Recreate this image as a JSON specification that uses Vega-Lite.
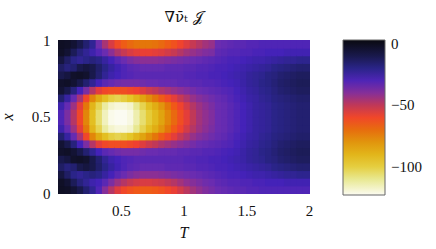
{
"$schema": "https://vega.github.io/schema/vega-lite/v6.json",
"width": 251, "height": 153,
"autosize": "none",
"padding": {"left": 58, "top": 40, "right": 127, "bottom": 56},
"background": "white",
"config": {"view": {"stroke": "#222", "strokeWidth": 1}, "font": "Liberation Serif, serif", "rect": {"binSpacing": -1},
  "axis": {"labelFont": "Liberation Serif, serif", "titleFont": "Liberation Serif, serif"},
  "legend": {"labelFont": "Liberation Serif, serif"}},
"title": {"text": "\u2207\u03bd\u0304\u209c \ud835\udca5", "fontSize": 15, "font": "DejaVu Serif, serif", "fontWeight": "normal", "offset": 8, "color": "#111"},
"data": {"values": [
{"t":0,"x":0,"v":-2},{"t":0,"x":0.05,"v":-3},{"t":0,"x":0.1,"v":-8},{"t":0,"x":0.15,"v":-14},{"t":0,"x":0.2,"v":-10},{"t":0,"x":0.25,"v":-4},{"t":0,"x":0.3,"v":-6},{"t":0,"x":0.35,"v":-16},{"t":0,"x":0.4,"v":-26},{"t":0,"x":0.45,"v":-30},{"t":0,"x":0.5,"v":-30},{"t":0,"x":0.55,"v":-26},{"t":0,"x":0.6,"v":-16},{"t":0,"x":0.65,"v":-6},{"t":0,"x":0.7,"v":-4},{"t":0,"x":0.75,"v":-10},{"t":0,"x":0.8,"v":-14},{"t":0,"x":0.85,"v":-8},{"t":0,"x":0.9,"v":-3},{"t":0,"x":0.95,"v":-2},
{"t":0.05,"x":0,"v":-3},{"t":0.05,"x":0.05,"v":-6},{"t":0.05,"x":0.1,"v":-14},{"t":0.05,"x":0.15,"v":-18},{"t":0.05,"x":0.2,"v":-8},{"t":0.05,"x":0.25,"v":-3},{"t":0.05,"x":0.3,"v":-10},{"t":0.05,"x":0.35,"v":-24},{"t":0.05,"x":0.4,"v":-34},{"t":0.05,"x":0.45,"v":-38},{"t":0.05,"x":0.5,"v":-38},{"t":0.05,"x":0.55,"v":-34},{"t":0.05,"x":0.6,"v":-24},{"t":0.05,"x":0.65,"v":-10},{"t":0.05,"x":0.7,"v":-3},{"t":0.05,"x":0.75,"v":-8},{"t":0.05,"x":0.8,"v":-18},{"t":0.05,"x":0.85,"v":-14},{"t":0.05,"x":0.9,"v":-6},{"t":0.05,"x":0.95,"v":-3},
{"t":0.1,"x":0,"v":-6},{"t":0.1,"x":0.05,"v":-12},{"t":0.1,"x":0.1,"v":-20},{"t":0.1,"x":0.15,"v":-16},{"t":0.1,"x":0.2,"v":-4},{"t":0.1,"x":0.25,"v":-6},{"t":0.1,"x":0.3,"v":-18},{"t":0.1,"x":0.35,"v":-34},{"t":0.1,"x":0.4,"v":-44},{"t":0.1,"x":0.45,"v":-48},{"t":0.1,"x":0.5,"v":-48},{"t":0.1,"x":0.55,"v":-44},{"t":0.1,"x":0.6,"v":-34},{"t":0.1,"x":0.65,"v":-18},{"t":0.1,"x":0.7,"v":-6},{"t":0.1,"x":0.75,"v":-4},{"t":0.1,"x":0.8,"v":-16},{"t":0.1,"x":0.85,"v":-20},{"t":0.1,"x":0.9,"v":-12},{"t":0.1,"x":0.95,"v":-6},
{"t":0.15,"x":0,"v":-10},{"t":0.15,"x":0.05,"v":-18},{"t":0.15,"x":0.1,"v":-22},{"t":0.15,"x":0.15,"v":-10},{"t":0.15,"x":0.2,"v":-3},{"t":0.15,"x":0.25,"v":-10},{"t":0.15,"x":0.3,"v":-28},{"t":0.15,"x":0.35,"v":-46},{"t":0.15,"x":0.4,"v":-56},{"t":0.15,"x":0.45,"v":-60},{"t":0.15,"x":0.5,"v":-60},{"t":0.15,"x":0.55,"v":-56},{"t":0.15,"x":0.6,"v":-46},{"t":0.15,"x":0.65,"v":-28},{"t":0.15,"x":0.7,"v":-10},{"t":0.15,"x":0.75,"v":-3},{"t":0.15,"x":0.8,"v":-10},{"t":0.15,"x":0.85,"v":-22},{"t":0.15,"x":0.9,"v":-18},{"t":0.15,"x":0.95,"v":-10},
{"t":0.2,"x":0,"v":-16},{"t":0.2,"x":0.05,"v":-22},{"t":0.2,"x":0.1,"v":-20},{"t":0.2,"x":0.15,"v":-8},{"t":0.2,"x":0.2,"v":-5},{"t":0.2,"x":0.25,"v":-16},{"t":0.2,"x":0.3,"v":-38},{"t":0.2,"x":0.35,"v":-60},{"t":0.2,"x":0.4,"v":-72},{"t":0.2,"x":0.45,"v":-76},{"t":0.2,"x":0.5,"v":-76},{"t":0.2,"x":0.55,"v":-72},{"t":0.2,"x":0.6,"v":-60},{"t":0.2,"x":0.65,"v":-38},{"t":0.2,"x":0.7,"v":-16},{"t":0.2,"x":0.75,"v":-5},{"t":0.2,"x":0.8,"v":-8},{"t":0.2,"x":0.85,"v":-20},{"t":0.2,"x":0.9,"v":-22},{"t":0.2,"x":0.95,"v":-16},
{"t":0.25,"x":0,"v":-22},{"t":0.25,"x":0.05,"v":-26},{"t":0.25,"x":0.1,"v":-18},{"t":0.25,"x":0.15,"v":-10},{"t":0.25,"x":0.2,"v":-10},{"t":0.25,"x":0.25,"v":-22},{"t":0.25,"x":0.3,"v":-48},{"t":0.25,"x":0.35,"v":-76},{"t":0.25,"x":0.4,"v":-90},{"t":0.25,"x":0.45,"v":-94},{"t":0.25,"x":0.5,"v":-94},{"t":0.25,"x":0.55,"v":-90},{"t":0.25,"x":0.6,"v":-76},{"t":0.25,"x":0.65,"v":-48},{"t":0.25,"x":0.7,"v":-22},{"t":0.25,"x":0.75,"v":-10},{"t":0.25,"x":0.8,"v":-10},{"t":0.25,"x":0.85,"v":-18},{"t":0.25,"x":0.9,"v":-26},{"t":0.25,"x":0.95,"v":-22},
{"t":0.3,"x":0,"v":-30},{"t":0.3,"x":0.05,"v":-28},{"t":0.3,"x":0.1,"v":-20},{"t":0.3,"x":0.15,"v":-15},{"t":0.3,"x":0.2,"v":-16},{"t":0.3,"x":0.25,"v":-28},{"t":0.3,"x":0.3,"v":-56},{"t":0.3,"x":0.35,"v":-86},{"t":0.3,"x":0.4,"v":-102},{"t":0.3,"x":0.45,"v":-106},{"t":0.3,"x":0.5,"v":-106},{"t":0.3,"x":0.55,"v":-102},{"t":0.3,"x":0.6,"v":-86},{"t":0.3,"x":0.65,"v":-56},{"t":0.3,"x":0.7,"v":-28},{"t":0.3,"x":0.75,"v":-16},{"t":0.3,"x":0.8,"v":-15},{"t":0.3,"x":0.85,"v":-20},{"t":0.3,"x":0.9,"v":-31},{"t":0.3,"x":0.95,"v":-36},
{"t":0.35,"x":0,"v":-40},{"t":0.35,"x":0.05,"v":-32},{"t":0.35,"x":0.1,"v":-24},{"t":0.35,"x":0.15,"v":-20},{"t":0.35,"x":0.2,"v":-22},{"t":0.35,"x":0.25,"v":-32},{"t":0.35,"x":0.3,"v":-60},{"t":0.35,"x":0.35,"v":-94},{"t":0.35,"x":0.4,"v":-112},{"t":0.35,"x":0.45,"v":-116},{"t":0.35,"x":0.5,"v":-116},{"t":0.35,"x":0.55,"v":-112},{"t":0.35,"x":0.6,"v":-94},{"t":0.35,"x":0.65,"v":-60},{"t":0.35,"x":0.7,"v":-32},{"t":0.35,"x":0.75,"v":-22},{"t":0.35,"x":0.8,"v":-20},{"t":0.35,"x":0.85,"v":-24},{"t":0.35,"x":0.9,"v":-35},{"t":0.35,"x":0.95,"v":-46},
{"t":0.4,"x":0,"v":-48},{"t":0.4,"x":0.05,"v":-38},{"t":0.4,"x":0.1,"v":-28},{"t":0.4,"x":0.15,"v":-24},{"t":0.4,"x":0.2,"v":-26},{"t":0.4,"x":0.25,"v":-34},{"t":0.4,"x":0.3,"v":-62},{"t":0.4,"x":0.35,"v":-100},{"t":0.4,"x":0.4,"v":-118},{"t":0.4,"x":0.45,"v":-122},{"t":0.4,"x":0.5,"v":-122},{"t":0.4,"x":0.55,"v":-118},{"t":0.4,"x":0.6,"v":-100},{"t":0.4,"x":0.65,"v":-62},{"t":0.4,"x":0.7,"v":-34},{"t":0.4,"x":0.75,"v":-26},{"t":0.4,"x":0.8,"v":-24},{"t":0.4,"x":0.85,"v":-28},{"t":0.4,"x":0.9,"v":-41},{"t":0.4,"x":0.95,"v":-54},
{"t":0.45,"x":0,"v":-55},{"t":0.45,"x":0.05,"v":-44},{"t":0.45,"x":0.1,"v":-32},{"t":0.45,"x":0.15,"v":-27},{"t":0.45,"x":0.2,"v":-28},{"t":0.45,"x":0.25,"v":-36},{"t":0.45,"x":0.3,"v":-62},{"t":0.45,"x":0.35,"v":-102},{"t":0.45,"x":0.4,"v":-120},{"t":0.45,"x":0.45,"v":-123},{"t":0.45,"x":0.5,"v":-123},{"t":0.45,"x":0.55,"v":-120},{"t":0.45,"x":0.6,"v":-102},{"t":0.45,"x":0.65,"v":-62},{"t":0.45,"x":0.7,"v":-36},{"t":0.45,"x":0.75,"v":-28},{"t":0.45,"x":0.8,"v":-27},{"t":0.45,"x":0.85,"v":-32},{"t":0.45,"x":0.9,"v":-47},{"t":0.45,"x":0.95,"v":-61},
{"t":0.5,"x":0,"v":-60},{"t":0.5,"x":0.05,"v":-48},{"t":0.5,"x":0.1,"v":-35},{"t":0.5,"x":0.15,"v":-30},{"t":0.5,"x":0.2,"v":-30},{"t":0.5,"x":0.25,"v":-37},{"t":0.5,"x":0.3,"v":-62},{"t":0.5,"x":0.35,"v":-100},{"t":0.5,"x":0.4,"v":-120},{"t":0.5,"x":0.45,"v":-123},{"t":0.5,"x":0.5,"v":-123},{"t":0.5,"x":0.55,"v":-120},{"t":0.5,"x":0.6,"v":-100},{"t":0.5,"x":0.65,"v":-62},{"t":0.5,"x":0.7,"v":-37},{"t":0.5,"x":0.75,"v":-30},{"t":0.5,"x":0.8,"v":-30},{"t":0.5,"x":0.85,"v":-35},{"t":0.5,"x":0.9,"v":-51},{"t":0.5,"x":0.95,"v":-66},
{"t":0.55,"x":0,"v":-63},{"t":0.55,"x":0.05,"v":-51},{"t":0.55,"x":0.1,"v":-38},{"t":0.55,"x":0.15,"v":-32},{"t":0.55,"x":0.2,"v":-31},{"t":0.55,"x":0.25,"v":-37},{"t":0.55,"x":0.3,"v":-60},{"t":0.55,"x":0.35,"v":-97},{"t":0.55,"x":0.4,"v":-118},{"t":0.55,"x":0.45,"v":-121},{"t":0.55,"x":0.5,"v":-121},{"t":0.55,"x":0.55,"v":-118},{"t":0.55,"x":0.6,"v":-97},{"t":0.55,"x":0.65,"v":-60},{"t":0.55,"x":0.7,"v":-37},{"t":0.55,"x":0.75,"v":-31},{"t":0.55,"x":0.8,"v":-32},{"t":0.55,"x":0.85,"v":-38},{"t":0.55,"x":0.9,"v":-54},{"t":0.55,"x":0.95,"v":-69},
{"t":0.6,"x":0,"v":-65},{"t":0.6,"x":0.05,"v":-53},{"t":0.6,"x":0.1,"v":-40},{"t":0.6,"x":0.15,"v":-33},{"t":0.6,"x":0.2,"v":-32},{"t":0.6,"x":0.25,"v":-37},{"t":0.6,"x":0.3,"v":-58},{"t":0.6,"x":0.35,"v":-90},{"t":0.6,"x":0.4,"v":-110},{"t":0.6,"x":0.45,"v":-114},{"t":0.6,"x":0.5,"v":-114},{"t":0.6,"x":0.55,"v":-110},{"t":0.6,"x":0.6,"v":-90},{"t":0.6,"x":0.65,"v":-58},{"t":0.6,"x":0.7,"v":-37},{"t":0.6,"x":0.75,"v":-32},{"t":0.6,"x":0.8,"v":-33},{"t":0.6,"x":0.85,"v":-40},{"t":0.6,"x":0.9,"v":-56},{"t":0.6,"x":0.95,"v":-71},
{"t":0.65,"x":0,"v":-66},{"t":0.65,"x":0.05,"v":-54},{"t":0.65,"x":0.1,"v":-41},{"t":0.65,"x":0.15,"v":-34},{"t":0.65,"x":0.2,"v":-32},{"t":0.65,"x":0.25,"v":-36},{"t":0.65,"x":0.3,"v":-55},{"t":0.65,"x":0.35,"v":-84},{"t":0.65,"x":0.4,"v":-102},{"t":0.65,"x":0.45,"v":-106},{"t":0.65,"x":0.5,"v":-106},{"t":0.65,"x":0.55,"v":-102},{"t":0.65,"x":0.6,"v":-84},{"t":0.65,"x":0.65,"v":-55},{"t":0.65,"x":0.7,"v":-36},{"t":0.65,"x":0.75,"v":-32},{"t":0.65,"x":0.8,"v":-34},{"t":0.65,"x":0.85,"v":-41},{"t":0.65,"x":0.9,"v":-57},{"t":0.65,"x":0.95,"v":-72},
{"t":0.7,"x":0,"v":-66},{"t":0.7,"x":0.05,"v":-54},{"t":0.7,"x":0.1,"v":-41},{"t":0.7,"x":0.15,"v":-34},{"t":0.7,"x":0.2,"v":-32},{"t":0.7,"x":0.25,"v":-35},{"t":0.7,"x":0.3,"v":-52},{"t":0.7,"x":0.35,"v":-78},{"t":0.7,"x":0.4,"v":-94},{"t":0.7,"x":0.45,"v":-99},{"t":0.7,"x":0.5,"v":-99},{"t":0.7,"x":0.55,"v":-94},{"t":0.7,"x":0.6,"v":-78},{"t":0.7,"x":0.65,"v":-52},{"t":0.7,"x":0.7,"v":-35},{"t":0.7,"x":0.75,"v":-32},{"t":0.7,"x":0.8,"v":-34},{"t":0.7,"x":0.85,"v":-41},{"t":0.7,"x":0.9,"v":-57},{"t":0.7,"x":0.95,"v":-72},
{"t":0.75,"x":0,"v":-65},{"t":0.75,"x":0.05,"v":-53},{"t":0.75,"x":0.1,"v":-41},{"t":0.75,"x":0.15,"v":-34},{"t":0.75,"x":0.2,"v":-32},{"t":0.75,"x":0.25,"v":-35},{"t":0.75,"x":0.3,"v":-50},{"t":0.75,"x":0.35,"v":-72},{"t":0.75,"x":0.4,"v":-87},{"t":0.75,"x":0.45,"v":-92},{"t":0.75,"x":0.5,"v":-92},{"t":0.75,"x":0.55,"v":-87},{"t":0.75,"x":0.6,"v":-72},{"t":0.75,"x":0.65,"v":-50},{"t":0.75,"x":0.7,"v":-35},{"t":0.75,"x":0.75,"v":-32},{"t":0.75,"x":0.8,"v":-34},{"t":0.75,"x":0.85,"v":-41},{"t":0.75,"x":0.9,"v":-56},{"t":0.75,"x":0.95,"v":-71},
{"t":0.8,"x":0,"v":-63},{"t":0.8,"x":0.05,"v":-52},{"t":0.8,"x":0.1,"v":-40},{"t":0.8,"x":0.15,"v":-34},{"t":0.8,"x":0.2,"v":-32},{"t":0.8,"x":0.25,"v":-34},{"t":0.8,"x":0.3,"v":-47},{"t":0.8,"x":0.35,"v":-66},{"t":0.8,"x":0.4,"v":-80},{"t":0.8,"x":0.45,"v":-84},{"t":0.8,"x":0.5,"v":-84},{"t":0.8,"x":0.55,"v":-80},{"t":0.8,"x":0.6,"v":-66},{"t":0.8,"x":0.65,"v":-47},{"t":0.8,"x":0.7,"v":-34},{"t":0.8,"x":0.75,"v":-32},{"t":0.8,"x":0.8,"v":-34},{"t":0.8,"x":0.85,"v":-40},{"t":0.8,"x":0.9,"v":-55},{"t":0.8,"x":0.95,"v":-69},
{"t":0.85,"x":0,"v":-60},{"t":0.85,"x":0.05,"v":-50},{"t":0.85,"x":0.1,"v":-39},{"t":0.85,"x":0.15,"v":-33},{"t":0.85,"x":0.2,"v":-32},{"t":0.85,"x":0.25,"v":-34},{"t":0.85,"x":0.3,"v":-45},{"t":0.85,"x":0.35,"v":-61},{"t":0.85,"x":0.4,"v":-72},{"t":0.85,"x":0.45,"v":-76},{"t":0.85,"x":0.5,"v":-76},{"t":0.85,"x":0.55,"v":-72},{"t":0.85,"x":0.6,"v":-61},{"t":0.85,"x":0.65,"v":-45},{"t":0.85,"x":0.7,"v":-34},{"t":0.85,"x":0.75,"v":-32},{"t":0.85,"x":0.8,"v":-33},{"t":0.85,"x":0.85,"v":-39},{"t":0.85,"x":0.9,"v":-53},{"t":0.85,"x":0.95,"v":-66},
{"t":0.9,"x":0,"v":-57},{"t":0.9,"x":0.05,"v":-48},{"t":0.9,"x":0.1,"v":-38},{"t":0.9,"x":0.15,"v":-33},{"t":0.9,"x":0.2,"v":-32},{"t":0.9,"x":0.25,"v":-34},{"t":0.9,"x":0.3,"v":-43},{"t":0.9,"x":0.35,"v":-56},{"t":0.9,"x":0.4,"v":-65},{"t":0.9,"x":0.45,"v":-69},{"t":0.9,"x":0.5,"v":-69},{"t":0.9,"x":0.55,"v":-65},{"t":0.9,"x":0.6,"v":-56},{"t":0.9,"x":0.65,"v":-43},{"t":0.9,"x":0.7,"v":-34},{"t":0.9,"x":0.75,"v":-32},{"t":0.9,"x":0.8,"v":-33},{"t":0.9,"x":0.85,"v":-38},{"t":0.9,"x":0.9,"v":-51},{"t":0.9,"x":0.95,"v":-63},
{"t":0.95,"x":0,"v":-53},{"t":0.95,"x":0.05,"v":-45},{"t":0.95,"x":0.1,"v":-37},{"t":0.95,"x":0.15,"v":-33},{"t":0.95,"x":0.2,"v":-32},{"t":0.95,"x":0.25,"v":-33},{"t":0.95,"x":0.3,"v":-41},{"t":0.95,"x":0.35,"v":-51},{"t":0.95,"x":0.4,"v":-59},{"t":0.95,"x":0.45,"v":-62},{"t":0.95,"x":0.5,"v":-62},{"t":0.95,"x":0.55,"v":-59},{"t":0.95,"x":0.6,"v":-51},{"t":0.95,"x":0.65,"v":-41},{"t":0.95,"x":0.7,"v":-33},{"t":0.95,"x":0.75,"v":-32},{"t":0.95,"x":0.8,"v":-33},{"t":0.95,"x":0.85,"v":-37},{"t":0.95,"x":0.9,"v":-48},{"t":0.95,"x":0.95,"v":-59},
{"t":1,"x":0,"v":-49},{"t":1,"x":0.05,"v":-42},{"t":1,"x":0.1,"v":-36},{"t":1,"x":0.15,"v":-32},{"t":1,"x":0.2,"v":-31},{"t":1,"x":0.25,"v":-33},{"t":1,"x":0.3,"v":-39},{"t":1,"x":0.35,"v":-47},{"t":1,"x":0.4,"v":-53},{"t":1,"x":0.45,"v":-56},{"t":1,"x":0.5,"v":-56},{"t":1,"x":0.55,"v":-53},{"t":1,"x":0.6,"v":-47},{"t":1,"x":0.65,"v":-39},{"t":1,"x":0.7,"v":-33},{"t":1,"x":0.75,"v":-31},{"t":1,"x":0.8,"v":-32},{"t":1,"x":0.85,"v":-36},{"t":1,"x":0.9,"v":-45},{"t":1,"x":0.95,"v":-55},
{"t":1.05,"x":0,"v":-45},{"t":1.05,"x":0.05,"v":-40},{"t":1.05,"x":0.1,"v":-35},{"t":1.05,"x":0.15,"v":-32},{"t":1.05,"x":0.2,"v":-31},{"t":1.05,"x":0.25,"v":-32},{"t":1.05,"x":0.3,"v":-37},{"t":1.05,"x":0.35,"v":-43},{"t":1.05,"x":0.4,"v":-48},{"t":1.05,"x":0.45,"v":-50},{"t":1.05,"x":0.5,"v":-50},{"t":1.05,"x":0.55,"v":-48},{"t":1.05,"x":0.6,"v":-43},{"t":1.05,"x":0.65,"v":-37},{"t":1.05,"x":0.7,"v":-32},{"t":1.05,"x":0.75,"v":-31},{"t":1.05,"x":0.8,"v":-32},{"t":1.05,"x":0.85,"v":-35},{"t":1.05,"x":0.9,"v":-43},{"t":1.05,"x":0.95,"v":-51},
{"t":1.1,"x":0,"v":-42},{"t":1.1,"x":0.05,"v":-38},{"t":1.1,"x":0.1,"v":-34},{"t":1.1,"x":0.15,"v":-31},{"t":1.1,"x":0.2,"v":-30},{"t":1.1,"x":0.25,"v":-32},{"t":1.1,"x":0.3,"v":-35},{"t":1.1,"x":0.35,"v":-40},{"t":1.1,"x":0.4,"v":-44},{"t":1.1,"x":0.45,"v":-45},{"t":1.1,"x":0.5,"v":-45},{"t":1.1,"x":0.55,"v":-44},{"t":1.1,"x":0.6,"v":-40},{"t":1.1,"x":0.65,"v":-35},{"t":1.1,"x":0.7,"v":-32},{"t":1.1,"x":0.75,"v":-30},{"t":1.1,"x":0.8,"v":-31},{"t":1.1,"x":0.85,"v":-34},{"t":1.1,"x":0.9,"v":-41},{"t":1.1,"x":0.95,"v":-48},
{"t":1.15,"x":0,"v":-39},{"t":1.15,"x":0.05,"v":-36},{"t":1.15,"x":0.1,"v":-33},{"t":1.15,"x":0.15,"v":-31},{"t":1.15,"x":0.2,"v":-30},{"t":1.15,"x":0.25,"v":-31},{"t":1.15,"x":0.3,"v":-34},{"t":1.15,"x":0.35,"v":-38},{"t":1.15,"x":0.4,"v":-41},{"t":1.15,"x":0.45,"v":-42},{"t":1.15,"x":0.5,"v":-42},{"t":1.15,"x":0.55,"v":-41},{"t":1.15,"x":0.6,"v":-38},{"t":1.15,"x":0.65,"v":-34},{"t":1.15,"x":0.7,"v":-31},{"t":1.15,"x":0.75,"v":-30},{"t":1.15,"x":0.8,"v":-31},{"t":1.15,"x":0.85,"v":-33},{"t":1.15,"x":0.9,"v":-39},{"t":1.15,"x":0.95,"v":-45},
{"t":1.2,"x":0,"v":-37},{"t":1.2,"x":0.05,"v":-35},{"t":1.2,"x":0.1,"v":-32},{"t":1.2,"x":0.15,"v":-30},{"t":1.2,"x":0.2,"v":-29},{"t":1.2,"x":0.25,"v":-31},{"t":1.2,"x":0.3,"v":-33},{"t":1.2,"x":0.35,"v":-36},{"t":1.2,"x":0.4,"v":-38},{"t":1.2,"x":0.45,"v":-39},{"t":1.2,"x":0.5,"v":-39},{"t":1.2,"x":0.55,"v":-38},{"t":1.2,"x":0.6,"v":-36},{"t":1.2,"x":0.65,"v":-33},{"t":1.2,"x":0.7,"v":-31},{"t":1.2,"x":0.75,"v":-29},{"t":1.2,"x":0.8,"v":-30},{"t":1.2,"x":0.85,"v":-32},{"t":1.2,"x":0.9,"v":-38},{"t":1.2,"x":0.95,"v":-43},
{"t":1.25,"x":0,"v":-35},{"t":1.25,"x":0.05,"v":-33},{"t":1.25,"x":0.1,"v":-31},{"t":1.25,"x":0.15,"v":-29},{"t":1.25,"x":0.2,"v":-29},{"t":1.25,"x":0.25,"v":-30},{"t":1.25,"x":0.3,"v":-32},{"t":1.25,"x":0.35,"v":-34},{"t":1.25,"x":0.4,"v":-35},{"t":1.25,"x":0.45,"v":-35},{"t":1.25,"x":0.5,"v":-35},{"t":1.25,"x":0.55,"v":-35},{"t":1.25,"x":0.6,"v":-34},{"t":1.25,"x":0.65,"v":-32},{"t":1.25,"x":0.7,"v":-30},{"t":1.25,"x":0.75,"v":-29},{"t":1.25,"x":0.8,"v":-29},{"t":1.25,"x":0.85,"v":-31},{"t":1.25,"x":0.9,"v":-33},{"t":1.25,"x":0.95,"v":-35},
{"t":1.3,"x":0,"v":-34},{"t":1.3,"x":0.05,"v":-32},{"t":1.3,"x":0.1,"v":-30},{"t":1.3,"x":0.15,"v":-29},{"t":1.3,"x":0.2,"v":-28},{"t":1.3,"x":0.25,"v":-29},{"t":1.3,"x":0.3,"v":-31},{"t":1.3,"x":0.35,"v":-33},{"t":1.3,"x":0.4,"v":-34},{"t":1.3,"x":0.45,"v":-34},{"t":1.3,"x":0.5,"v":-34},{"t":1.3,"x":0.55,"v":-34},{"t":1.3,"x":0.6,"v":-33},{"t":1.3,"x":0.65,"v":-31},{"t":1.3,"x":0.7,"v":-29},{"t":1.3,"x":0.75,"v":-28},{"t":1.3,"x":0.8,"v":-29},{"t":1.3,"x":0.85,"v":-30},{"t":1.3,"x":0.9,"v":-32},{"t":1.3,"x":0.95,"v":-34},
{"t":1.35,"x":0,"v":-33},{"t":1.35,"x":0.05,"v":-31},{"t":1.35,"x":0.1,"v":-29},{"t":1.35,"x":0.15,"v":-28},{"t":1.35,"x":0.2,"v":-27},{"t":1.35,"x":0.25,"v":-28},{"t":1.35,"x":0.3,"v":-30},{"t":1.35,"x":0.35,"v":-31},{"t":1.35,"x":0.4,"v":-32},{"t":1.35,"x":0.45,"v":-32},{"t":1.35,"x":0.5,"v":-32},{"t":1.35,"x":0.55,"v":-32},{"t":1.35,"x":0.6,"v":-31},{"t":1.35,"x":0.65,"v":-30},{"t":1.35,"x":0.7,"v":-28},{"t":1.35,"x":0.75,"v":-27},{"t":1.35,"x":0.8,"v":-28},{"t":1.35,"x":0.85,"v":-29},{"t":1.35,"x":0.9,"v":-31},{"t":1.35,"x":0.95,"v":-33},
{"t":1.4,"x":0,"v":-32},{"t":1.4,"x":0.05,"v":-31},{"t":1.4,"x":0.1,"v":-29},{"t":1.4,"x":0.15,"v":-27},{"t":1.4,"x":0.2,"v":-26},{"t":1.4,"x":0.25,"v":-27},{"t":1.4,"x":0.3,"v":-28},{"t":1.4,"x":0.35,"v":-29},{"t":1.4,"x":0.4,"v":-30},{"t":1.4,"x":0.45,"v":-30},{"t":1.4,"x":0.5,"v":-30},{"t":1.4,"x":0.55,"v":-30},{"t":1.4,"x":0.6,"v":-29},{"t":1.4,"x":0.65,"v":-28},{"t":1.4,"x":0.7,"v":-27},{"t":1.4,"x":0.75,"v":-26},{"t":1.4,"x":0.8,"v":-27},{"t":1.4,"x":0.85,"v":-29},{"t":1.4,"x":0.9,"v":-31},{"t":1.4,"x":0.95,"v":-32},
{"t":1.45,"x":0,"v":-32},{"t":1.45,"x":0.05,"v":-30},{"t":1.45,"x":0.1,"v":-28},{"t":1.45,"x":0.15,"v":-26},{"t":1.45,"x":0.2,"v":-25},{"t":1.45,"x":0.25,"v":-25},{"t":1.45,"x":0.3,"v":-26},{"t":1.45,"x":0.35,"v":-27},{"t":1.45,"x":0.4,"v":-28},{"t":1.45,"x":0.45,"v":-28},{"t":1.45,"x":0.5,"v":-28},{"t":1.45,"x":0.55,"v":-28},{"t":1.45,"x":0.6,"v":-27},{"t":1.45,"x":0.65,"v":-26},{"t":1.45,"x":0.7,"v":-25},{"t":1.45,"x":0.75,"v":-25},{"t":1.45,"x":0.8,"v":-26},{"t":1.45,"x":0.85,"v":-28},{"t":1.45,"x":0.9,"v":-30},{"t":1.45,"x":0.95,"v":-32},
{"t":1.5,"x":0,"v":-31},{"t":1.5,"x":0.05,"v":-30},{"t":1.5,"x":0.1,"v":-27},{"t":1.5,"x":0.15,"v":-25},{"t":1.5,"x":0.2,"v":-23},{"t":1.5,"x":0.25,"v":-23},{"t":1.5,"x":0.3,"v":-24},{"t":1.5,"x":0.35,"v":-25},{"t":1.5,"x":0.4,"v":-26},{"t":1.5,"x":0.45,"v":-26},{"t":1.5,"x":0.5,"v":-26},{"t":1.5,"x":0.55,"v":-26},{"t":1.5,"x":0.6,"v":-25},{"t":1.5,"x":0.65,"v":-24},{"t":1.5,"x":0.7,"v":-23},{"t":1.5,"x":0.75,"v":-23},{"t":1.5,"x":0.8,"v":-25},{"t":1.5,"x":0.85,"v":-27},{"t":1.5,"x":0.9,"v":-30},{"t":1.5,"x":0.95,"v":-31},
{"t":1.55,"x":0,"v":-31},{"t":1.55,"x":0.05,"v":-29},{"t":1.55,"x":0.1,"v":-26},{"t":1.55,"x":0.15,"v":-24},{"t":1.55,"x":0.2,"v":-22},{"t":1.55,"x":0.25,"v":-22},{"t":1.55,"x":0.3,"v":-23},{"t":1.55,"x":0.35,"v":-24},{"t":1.55,"x":0.4,"v":-24},{"t":1.55,"x":0.45,"v":-24},{"t":1.55,"x":0.5,"v":-24},{"t":1.55,"x":0.55,"v":-24},{"t":1.55,"x":0.6,"v":-24},{"t":1.55,"x":0.65,"v":-23},{"t":1.55,"x":0.7,"v":-22},{"t":1.55,"x":0.75,"v":-22},{"t":1.55,"x":0.8,"v":-24},{"t":1.55,"x":0.85,"v":-26},{"t":1.55,"x":0.9,"v":-29},{"t":1.55,"x":0.95,"v":-31},
{"t":1.6,"x":0,"v":-30},{"t":1.6,"x":0.05,"v":-29},{"t":1.6,"x":0.1,"v":-26},{"t":1.6,"x":0.15,"v":-23},{"t":1.6,"x":0.2,"v":-21},{"t":1.6,"x":0.25,"v":-20},{"t":1.6,"x":0.3,"v":-21},{"t":1.6,"x":0.35,"v":-22},{"t":1.6,"x":0.4,"v":-23},{"t":1.6,"x":0.45,"v":-23},{"t":1.6,"x":0.5,"v":-23},{"t":1.6,"x":0.55,"v":-23},{"t":1.6,"x":0.6,"v":-22},{"t":1.6,"x":0.65,"v":-21},{"t":1.6,"x":0.7,"v":-20},{"t":1.6,"x":0.75,"v":-21},{"t":1.6,"x":0.8,"v":-23},{"t":1.6,"x":0.85,"v":-26},{"t":1.6,"x":0.9,"v":-29},{"t":1.6,"x":0.95,"v":-30},
{"t":1.65,"x":0,"v":-30},{"t":1.65,"x":0.05,"v":-28},{"t":1.65,"x":0.1,"v":-25},{"t":1.65,"x":0.15,"v":-22},{"t":1.65,"x":0.2,"v":-19},{"t":1.65,"x":0.25,"v":-19},{"t":1.65,"x":0.3,"v":-20},{"t":1.65,"x":0.35,"v":-21},{"t":1.65,"x":0.4,"v":-22},{"t":1.65,"x":0.45,"v":-22},{"t":1.65,"x":0.5,"v":-22},{"t":1.65,"x":0.55,"v":-22},{"t":1.65,"x":0.6,"v":-21},{"t":1.65,"x":0.65,"v":-20},{"t":1.65,"x":0.7,"v":-19},{"t":1.65,"x":0.75,"v":-19},{"t":1.65,"x":0.8,"v":-22},{"t":1.65,"x":0.85,"v":-25},{"t":1.65,"x":0.9,"v":-28},{"t":1.65,"x":0.95,"v":-30},
{"t":1.7,"x":0,"v":-30},{"t":1.7,"x":0.05,"v":-28},{"t":1.7,"x":0.1,"v":-24},{"t":1.7,"x":0.15,"v":-20},{"t":1.7,"x":0.2,"v":-18},{"t":1.7,"x":0.25,"v":-17},{"t":1.7,"x":0.3,"v":-18},{"t":1.7,"x":0.35,"v":-19},{"t":1.7,"x":0.4,"v":-20},{"t":1.7,"x":0.45,"v":-20},{"t":1.7,"x":0.5,"v":-20},{"t":1.7,"x":0.55,"v":-20},{"t":1.7,"x":0.6,"v":-19},{"t":1.7,"x":0.65,"v":-18},{"t":1.7,"x":0.7,"v":-17},{"t":1.7,"x":0.75,"v":-18},{"t":1.7,"x":0.8,"v":-20},{"t":1.7,"x":0.85,"v":-24},{"t":1.7,"x":0.9,"v":-28},{"t":1.7,"x":0.95,"v":-30},
{"t":1.75,"x":0,"v":-30},{"t":1.75,"x":0.05,"v":-28},{"t":1.75,"x":0.1,"v":-23},{"t":1.75,"x":0.15,"v":-19},{"t":1.75,"x":0.2,"v":-16},{"t":1.75,"x":0.25,"v":-15},{"t":1.75,"x":0.3,"v":-16},{"t":1.75,"x":0.35,"v":-18},{"t":1.75,"x":0.4,"v":-19},{"t":1.75,"x":0.45,"v":-19},{"t":1.75,"x":0.5,"v":-19},{"t":1.75,"x":0.55,"v":-19},{"t":1.75,"x":0.6,"v":-18},{"t":1.75,"x":0.65,"v":-16},{"t":1.75,"x":0.7,"v":-15},{"t":1.75,"x":0.75,"v":-16},{"t":1.75,"x":0.8,"v":-19},{"t":1.75,"x":0.85,"v":-23},{"t":1.75,"x":0.9,"v":-28},{"t":1.75,"x":0.95,"v":-30},
{"t":1.8,"x":0,"v":-30},{"t":1.8,"x":0.05,"v":-27},{"t":1.8,"x":0.1,"v":-22},{"t":1.8,"x":0.15,"v":-18},{"t":1.8,"x":0.2,"v":-15},{"t":1.8,"x":0.25,"v":-14},{"t":1.8,"x":0.3,"v":-15},{"t":1.8,"x":0.35,"v":-17},{"t":1.8,"x":0.4,"v":-18},{"t":1.8,"x":0.45,"v":-18},{"t":1.8,"x":0.5,"v":-18},{"t":1.8,"x":0.55,"v":-18},{"t":1.8,"x":0.6,"v":-17},{"t":1.8,"x":0.65,"v":-15},{"t":1.8,"x":0.7,"v":-14},{"t":1.8,"x":0.75,"v":-15},{"t":1.8,"x":0.8,"v":-18},{"t":1.8,"x":0.85,"v":-22},{"t":1.8,"x":0.9,"v":-27},{"t":1.8,"x":0.95,"v":-30},
{"t":1.85,"x":0,"v":-30},{"t":1.85,"x":0.05,"v":-27},{"t":1.85,"x":0.1,"v":-22},{"t":1.85,"x":0.15,"v":-17},{"t":1.85,"x":0.2,"v":-14},{"t":1.85,"x":0.25,"v":-13},{"t":1.85,"x":0.3,"v":-14},{"t":1.85,"x":0.35,"v":-16},{"t":1.85,"x":0.4,"v":-17},{"t":1.85,"x":0.45,"v":-17},{"t":1.85,"x":0.5,"v":-17},{"t":1.85,"x":0.55,"v":-17},{"t":1.85,"x":0.6,"v":-16},{"t":1.85,"x":0.65,"v":-14},{"t":1.85,"x":0.7,"v":-13},{"t":1.85,"x":0.75,"v":-14},{"t":1.85,"x":0.8,"v":-17},{"t":1.85,"x":0.85,"v":-22},{"t":1.85,"x":0.9,"v":-27},{"t":1.85,"x":0.95,"v":-30},
{"t":1.9,"x":0,"v":-30},{"t":1.9,"x":0.05,"v":-27},{"t":1.9,"x":0.1,"v":-21},{"t":1.9,"x":0.15,"v":-16},{"t":1.9,"x":0.2,"v":-13},{"t":1.9,"x":0.25,"v":-12},{"t":1.9,"x":0.3,"v":-13},{"t":1.9,"x":0.35,"v":-15},{"t":1.9,"x":0.4,"v":-16},{"t":1.9,"x":0.45,"v":-16},{"t":1.9,"x":0.5,"v":-16},{"t":1.9,"x":0.55,"v":-16},{"t":1.9,"x":0.6,"v":-15},{"t":1.9,"x":0.65,"v":-13},{"t":1.9,"x":0.7,"v":-12},{"t":1.9,"x":0.75,"v":-13},{"t":1.9,"x":0.8,"v":-16},{"t":1.9,"x":0.85,"v":-21},{"t":1.9,"x":0.9,"v":-27},{"t":1.9,"x":0.95,"v":-30},
{"t":1.95,"x":0,"v":-30},{"t":1.95,"x":0.05,"v":-27},{"t":1.95,"x":0.1,"v":-21},{"t":1.95,"x":0.15,"v":-16},{"t":1.95,"x":0.2,"v":-13},{"t":1.95,"x":0.25,"v":-12},{"t":1.95,"x":0.3,"v":-13},{"t":1.95,"x":0.35,"v":-15},{"t":1.95,"x":0.4,"v":-16},{"t":1.95,"x":0.45,"v":-16},{"t":1.95,"x":0.5,"v":-16},{"t":1.95,"x":0.55,"v":-16},{"t":1.95,"x":0.6,"v":-15},{"t":1.95,"x":0.65,"v":-13},{"t":1.95,"x":0.7,"v":-12},{"t":1.95,"x":0.75,"v":-13},{"t":1.95,"x":0.8,"v":-16},{"t":1.95,"x":0.85,"v":-21},{"t":1.95,"x":0.9,"v":-27},{"t":1.95,"x":0.95,"v":-30}
]},
"mark": {"type": "rect", "strokeWidth": 0},
"encoding": {
  "x": {"field": "t", "type": "quantitative", "bin": {"binned": true, "step": 0.05},
        "scale": {"domain": [0, 2], "nice": false, "zero": false},
        "axis": {"values": [0.5, 1, 1.5, 2], "title": "T", "titleFontStyle": "italic", "titleFontWeight": "normal", "titleFontSize": 16, "labelFontSize": 15, "ticks": false, "domain": false, "grid": false, "labelPadding": 10, "titlePadding": 6, "labelColor": "#111", "titleColor": "#111", "labelFlush": false, "format": "~g"}},
  "y": {"field": "x", "type": "quantitative", "bin": {"binned": true, "step": 0.05},
        "scale": {"domain": [0, 1], "nice": false, "zero": false},
        "axis": {"values": [0, 0.5, 1], "title": "x", "titleFontStyle": "italic", "titleFontWeight": "normal", "titleFontSize": 16, "labelFontSize": 15, "ticks": false, "domain": false, "grid": false, "labelPadding": 8, "titlePadding": 16, "labelColor": "#111", "titleColor": "#111", "labelFlush": false, "format": "~g"}},
  "color": {"field": "v", "type": "quantitative",
        "scale": {"domain": [-123, -110, -97, -85, -73, -65, -58, -50, -42, -35, -28, -20, -12, -5, 3],
                  "range": ["#fbfbf2", "#e8e890", "#e4c628", "#e0a810", "#e27a08", "#f05818", "#f04030", "#c03858", "#903090", "#6a2cb0", "#4422b8", "#2a2488", "#1c1c58", "#12122e", "#0a0a12"],
                  "interpolate": "rgb"},
        "legend": {"type": "gradient", "title": null, "orient": "right", "direction": "vertical", "values": [0, -50, -100], "gradientLength": 155, "gradientThickness": 42, "gradientStrokeColor": "#666", "gradientStrokeWidth": 1, "labelFontSize": 15, "labelFont": "Liberation Serif, serif", "labelOffset": 6, "offset": 34, "padding": 0, "labelColor": "#111"}}
}
}
